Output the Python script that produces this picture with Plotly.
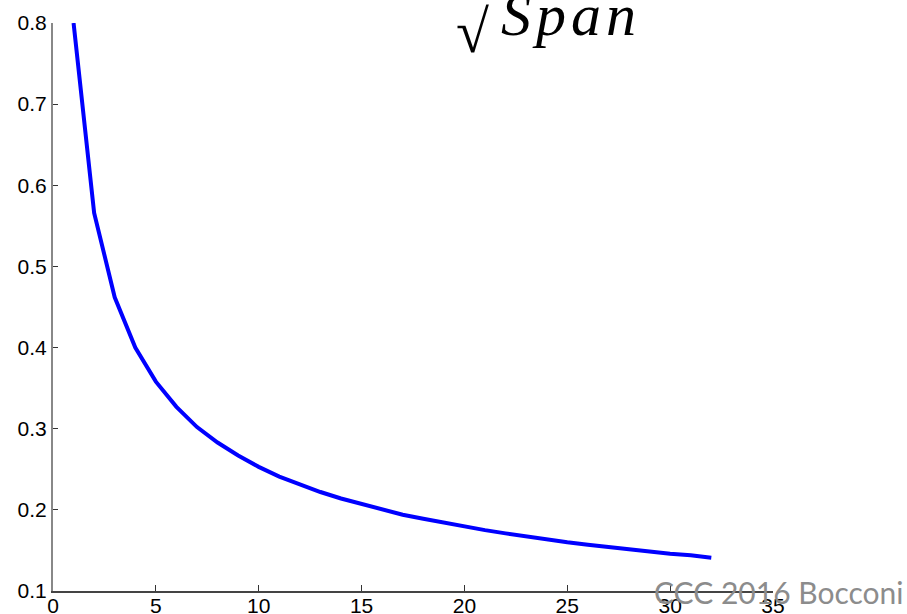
import plotly.graph_objects as go

span = list(range(1, 33))
value = [0.800, 0.566, 0.462, 0.400, 0.358, 0.327, 0.302, 0.283, 0.267, 0.253,
         0.241, 0.231, 0.222, 0.214, 0.207, 0.200, 0.194, 0.189, 0.184, 0.179,
         0.175, 0.171, 0.167, 0.163, 0.160, 0.157, 0.154, 0.151, 0.149, 0.146,
         0.144, 0.141]
x_ticks = [0, 5, 10, 15, 20, 25, 30, 35]
y_ticks = [0.1, 0.2, 0.3, 0.4, 0.5, 0.6, 0.7, 0.8]

fig = go.Figure()
fig.add_trace(go.Scatter(x=span, y=value, mode="lines",
                         line=dict(color="#0000FF", width=4), showlegend=False))

H = 568.0
fig.update_layout(
    width=907, height=614,
    margin=dict(l=53, r=134, t=23, b=23),
    paper_bgcolor="white", plot_bgcolor="white",
    font=dict(family="Liberation Sans, Arial", size=21, color="black"),
    xaxis=dict(range=[0, 35], tickvals=x_ticks, ticktext=[str(v) for v in x_ticks],
               showgrid=False, zeroline=False, showline=True, linecolor="#444444",
               linewidth=1.5, ticks="inside", ticklen=6, tickcolor="#333333",
               tickwidth=1, ticklabelstandoff=-5, automargin=False),
    yaxis=dict(range=[0.1, 0.8], tickvals=y_ticks, ticktext=[str(v) for v in y_ticks],
               showgrid=False, zeroline=False, showline=True, linecolor="#888888",
               linewidth=2, ticks="inside", ticklen=5, tickcolor="#333333",
               tickwidth=1, ticklabelstandoff=0, automargin=False),
    annotations=[
        dict(text="√", xref="paper", yref="paper",
             x=(472 - 53) / 720, y=(591 - 67) / H, xanchor="center", yanchor="bottom",
             showarrow=False, font=dict(family="Liberation Serif, Times New Roman", size=60,
                                        color="black")),
        dict(text="<i>S\u200ap\u200aa\u200an</i>", xref="paper", yref="paper",
             x=(568 - 53) / 720, y=(591 - 50) / H, xanchor="center", yanchor="bottom",
             showarrow=False, font=dict(family="Liberation Serif, Times New Roman", size=60,
                                        color="black")),
        dict(text="CCC 2016 Bocconi", xref="paper", yref="paper",
             x=(905 - 53) / 720, y=(591 - 612) / H, xanchor="right", yanchor="bottom",
             showarrow=False, font=dict(family="Lato, Open Sans", size=30, color="#8c8c8c")),
    ],
)

fig.write_html("out.html")
